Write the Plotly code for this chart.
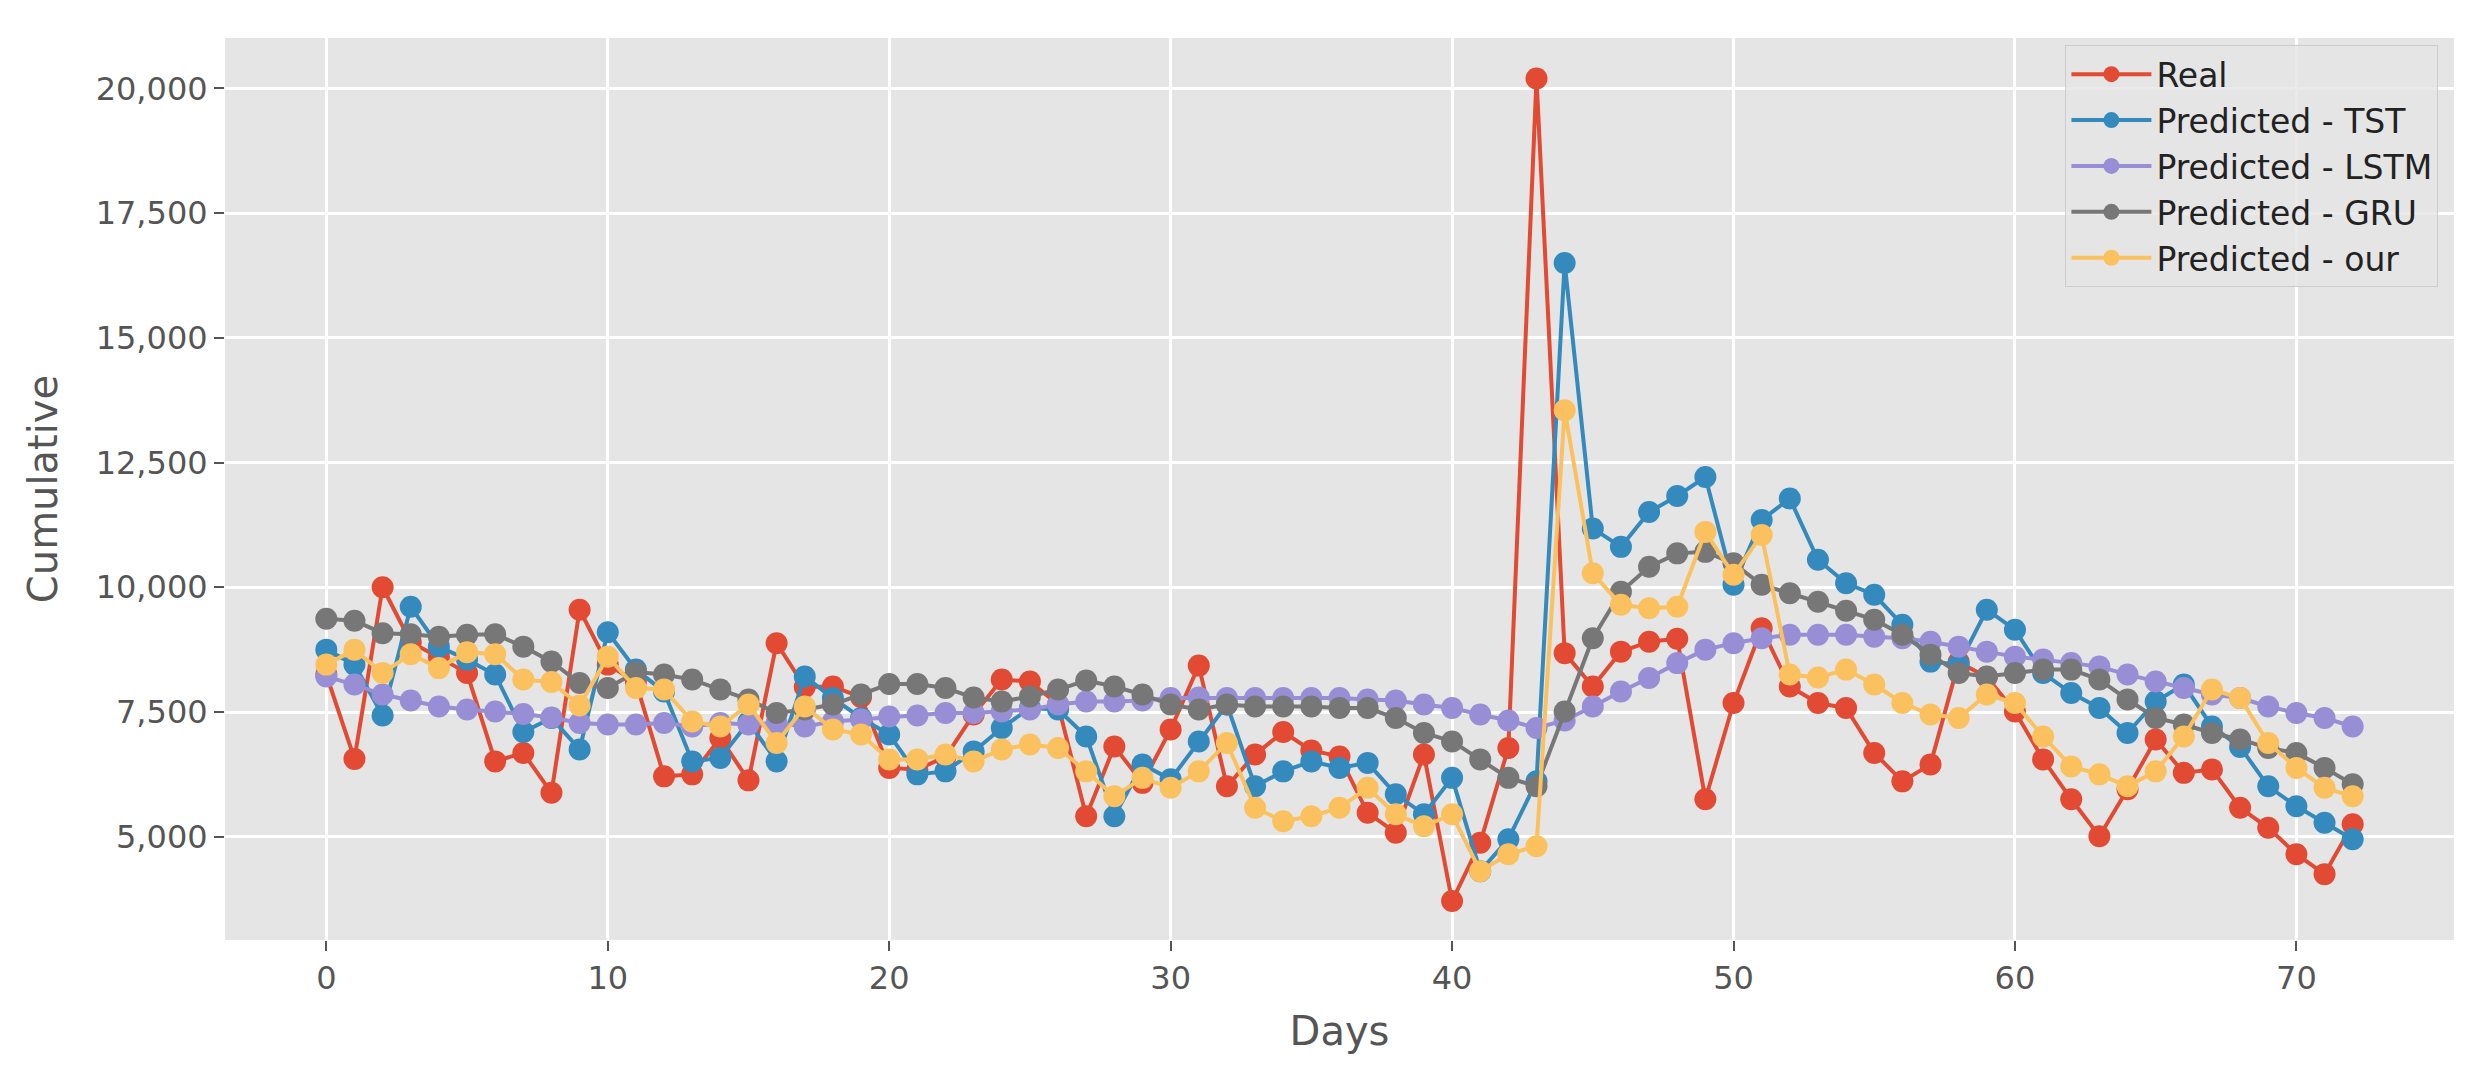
import plotly.graph_objects as go

days = list(range(73))

real = [8250, 6560, 10000, 8900, 8600, 8280, 6510, 6680, 5880, 9550,
        8450, 8100, 6210, 6250, 6980, 6130, 8880, 8000, 8010, 7800,
        6380, 6350, 6600, 7450, 8150, 8110, 7650, 5410, 6810, 6080,
        7150, 8430, 6010, 6650, 7100, 6730, 6610, 5480, 5080, 6650,
        3710, 4880, 6780, 20200, 8680, 8010, 8710, 8910, 8970, 5750,
        7680, 9180, 8010, 7680, 7580, 6680, 6110, 6450, 8500, 8200,
        7510, 6550, 5750, 5010, 5950, 6950, 6280, 6350, 5580, 5180,
        4650, 4250, 5250]

tst = [8750, 8450, 7430, 9610, 8810, 8550, 8250, 7100, 7380, 6750,
       9100, 8350, 7910, 6510, 6580, 7300, 6510, 8210, 7780, 7380,
       7050, 6250, 6310, 6710, 7180, 7580, 7550, 7010, 5410, 6450,
       6150, 6910, 7650, 6010, 6310, 6510, 6380, 6480, 5850, 5450,
       6180, 4310, 4950, 6110, 16500, 11180, 10810, 11510, 11830, 12210,
       10050, 11350, 11780, 10550, 10080, 9850, 9250, 8510, 8450, 9550,
       9150, 8280, 7880, 7580, 7080, 7710, 8050, 7210, 6800, 6010,
       5610, 5280, 4950]

lstm = [8210, 8050, 7850, 7730, 7610, 7550, 7510, 7460, 7390, 7280,
        7250, 7250, 7280, 7210, 7280, 7250, 7280, 7210, 7310, 7350,
        7410, 7430, 7480, 7480, 7510, 7550, 7650, 7710, 7710, 7730,
        7780, 7790, 7780, 7780, 7780, 7780, 7780, 7750, 7730, 7650,
        7580, 7450, 7330, 7180, 7330, 7610, 7910, 8180, 8480, 8750,
        8880, 8980, 9050, 9050, 9050, 9010, 8980, 8910, 8810, 8710,
        8610, 8550, 8480, 8410, 8250, 8110, 7980, 7850, 7780, 7610,
        7480, 7380, 7210]

gru = [9370, 9330, 9080, 9060, 9010, 9050, 9060, 8810, 8510, 8080,
       7980, 8300, 8250, 8150, 7950, 7750, 7480, 7550, 7650, 7850,
       8060, 8060, 7980, 7790, 7710, 7810, 7950, 8130, 8010, 7850,
       7650, 7550, 7650, 7610, 7610, 7610, 7580, 7580, 7380, 7080,
       6910, 6550, 6180, 6010, 7510, 8980, 9910, 10410, 10680, 10710,
       10480, 10050, 9880, 9710, 9530, 9350, 9050, 8650, 8280, 8210,
       8280, 8350, 8350, 8150, 7750, 7380, 7250, 7080, 6950, 6780,
       6680, 6380, 6050]

our = [8450, 8750, 8280, 8660, 8380, 8700, 8660, 8150, 8100, 7630,
       8610, 7980, 7950, 7310, 7210, 7650, 6880, 7610, 7150, 7050,
       6550, 6550, 6650, 6510, 6750, 6850, 6780, 6310, 5810, 6180,
       5980, 6310, 6880, 5580, 5310, 5410, 5580, 5980, 5450, 5210,
       5450, 4310, 4650, 4810, 13550, 10280, 9650, 9580, 9610, 11110,
       10250, 11050, 8250, 8190, 8350, 8050, 7680, 7450, 7380, 7850,
       7680, 7010, 6410, 6250, 6010, 6310, 7010, 7950, 7780, 6880,
       6380, 5980, 5810]

series_names = ["Real", "Predicted - TST", "Predicted - LSTM", "Predicted - GRU", "Predicted - our"]
series_values = [real, tst, lstm, gru, our]
colors = ["#E24A33", "#348ABD", "#988ED5", "#777777", "#FBC15E"]

x_ticks = [0, 10, 20, 30, 40, 50, 60, 70]
y_ticks = [5000, 7500, 10000, 12500, 15000, 17500, 20000]

FONT = "DejaVu Sans"

fig = go.Figure()
for name, vals, col in zip(series_names, series_values, colors):
    fig.add_trace(go.Scatter(
        x=days, y=vals, name=name, mode="lines+markers",
        line=dict(color=col, width=4),
        marker=dict(color=col, size=22),
    ))

fig.update_layout(
    width=2473, height=1069,
    paper_bgcolor="white", plot_bgcolor="#E5E5E5",
    margin=dict(l=217, r=27, t=30, b=137),
    font=dict(family=FONT, size=32, color="#555555"),
    showlegend=True,
    legend=dict(
        x=0.993, y=0.992, xanchor="right", yanchor="top",
        bgcolor="rgba(229,229,229,0.8)", bordercolor="#CCCCCC", borderwidth=1,
        font=dict(family=FONT, size=33, color="#222222"),
        tracegroupgap=0, itemwidth=80, itemsizing="trace",
    ),
)
fig.update_xaxes(
    range=[-3.6, 75.6], tickvals=x_ticks, ticktext=[str(t) for t in x_ticks],
    showgrid=True, gridcolor="white", gridwidth=3, zeroline=False,
    ticks="outside", ticklen=10, tickwidth=2, tickcolor="#555555",
    tickfont=dict(family=FONT, size=32, color="#555555"),
    title=dict(text="Days", font=dict(family=FONT, size=40, color="#555555"), standoff=20),
    showline=False, automargin=False,
)
fig.update_yaxes(
    range=[2930, 21010], tickvals=y_ticks, tickformat=",d",
    showgrid=True, gridcolor="white", gridwidth=3, zeroline=False,
    ticks="outside", ticklen=10, tickwidth=2, tickcolor="#555555",
    tickfont=dict(family=FONT, size=32, color="#555555"),
    title=dict(text="Cumulative", font=dict(family=FONT, size=40, color="#555555"), standoff=25),
    showline=False, automargin=False,
)

fig.write_html("out.html")
